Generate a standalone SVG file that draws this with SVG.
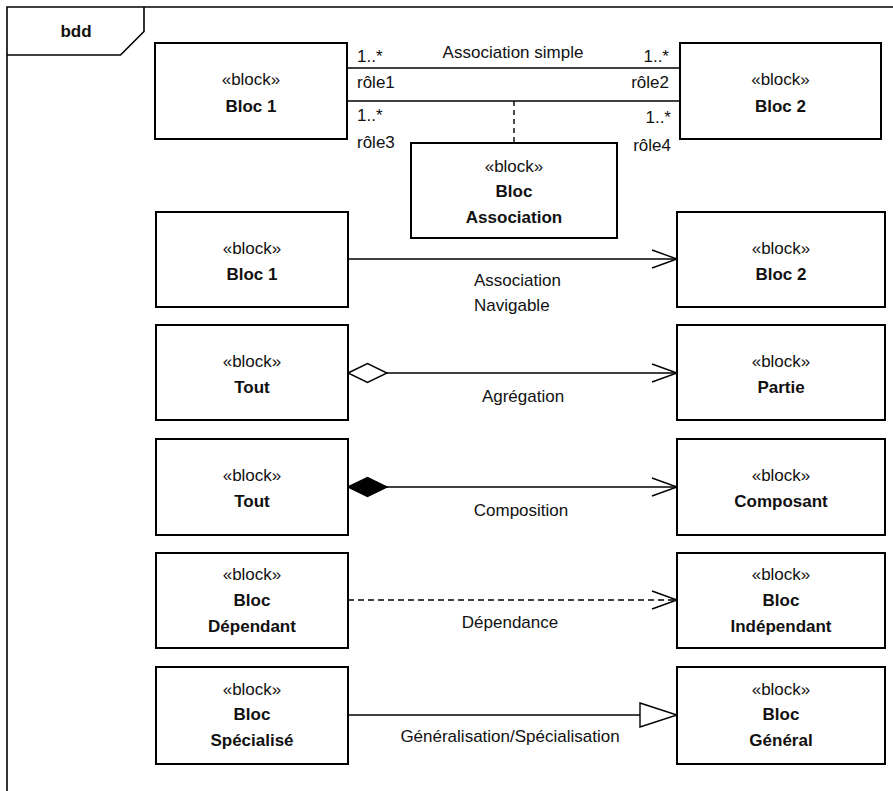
<svg xmlns="http://www.w3.org/2000/svg" width="893" height="791" viewBox="0 0 893 791">
<style>
  text { font-family: "Liberation Sans", Arial, sans-serif; font-size: 17px; fill: #111; }
  .b { font-weight: bold; }
  .c { text-anchor: middle; }
  .e { text-anchor: end; }
  .box { fill: #fff; stroke: #000; stroke-width: 2; }
  .frame { fill: none; stroke: #000; stroke-width: 1.6; }
  .ln { fill: none; stroke: #000; stroke-width: 1.4; }
  .dash { stroke-dasharray: 6 4; }
</style>
<defs>
  <marker id="open" markerUnits="userSpaceOnUse" markerWidth="28" markerHeight="22" refX="25" refY="10" orient="auto" overflow="visible">
    <path d="M0,1 L25,10 L0,19" fill="none" stroke="#000" stroke-width="1.4"/>
  </marker>
  <marker id="hdiam" markerUnits="userSpaceOnUse" markerWidth="42" markerHeight="22" refX="0" refY="10" orient="auto" overflow="visible">
    <path d="M0,10 L19.5,0.5 L39,10 L19.5,19.5 Z" fill="#fff" stroke="#000" stroke-width="1.4"/>
  </marker>
  <marker id="fdiam" markerUnits="userSpaceOnUse" markerWidth="42" markerHeight="22" refX="0" refY="10" orient="auto" overflow="visible">
    <path d="M0,10 L19.5,0.5 L39,10 L19.5,19.5 Z" fill="#000" stroke="#000" stroke-width="1.4"/>
  </marker>
  <marker id="tri" markerUnits="userSpaceOnUse" markerWidth="40" markerHeight="28" refX="37" refY="12" orient="auto" overflow="visible">
    <path d="M0,0 L37,12 L0,24 Z" fill="#fff" stroke="#000" stroke-width="1.4"/>
  </marker>
</defs>

<g id="frame">
  <path class="frame" d="M7,791 L7,7 L893,7"/>
  <path class="frame" d="M7,55 L120.5,55 L144,31.5 L144,7"/>
  <text class="b c" x="76" y="37">bdd</text>
</g>

<g id="connectors">
  <line class="ln" x1="347" y1="68" x2="680" y2="68"/>
  <line class="ln" x1="347" y1="101" x2="680" y2="101"/>
  <line class="ln dash" x1="514" y1="101" x2="514" y2="143" style="stroke-dasharray:5 4"/>
  <line class="ln" x1="348" y1="259" x2="677" y2="259" marker-end="url(#open)"/>
  <line class="ln" x1="348" y1="373" x2="677" y2="373" marker-start="url(#hdiam)" marker-end="url(#open)"/>
  <line class="ln" x1="348" y1="487" x2="677" y2="487" marker-start="url(#fdiam)" marker-end="url(#open)"/>
  <line class="ln dash" x1="348" y1="600" x2="677" y2="600" marker-end="url(#open)"/>
  <line class="ln" x1="348" y1="715" x2="677" y2="715" marker-end="url(#tri)"/>
</g>

<g id="labels">
  <text class="c" x="513" y="58">Association simple</text>
  <text x="357" y="61.5">1..*</text>
  <text x="357" y="88">rôle1</text>
  <text class="e" x="669" y="61.5">1..*</text>
  <text class="e" x="669" y="88">rôle2</text>
  <text x="357" y="121">1..*</text>
  <text x="357" y="148">rôle3</text>
  <text class="e" x="671" y="123">1..*</text>
  <text class="e" x="671" y="150.5">rôle4</text>
  <text x="474" y="285.5">Association</text>
  <text x="474" y="311">Navigable</text>
  <text class="c" x="523" y="401.5">Agrégation</text>
  <text class="c" x="521" y="516">Composition</text>
  <text class="c" x="510" y="627.5">Dépendance</text>
  <text class="c" x="510" y="742">Généralisation/Spécialisation</text>
</g>

<g id="bloc1-top">
  <rect class="box" x="155" y="43" width="192" height="96"/>
  <text class="c" x="251" y="85">«block»</text>
  <text class="b c" x="251" y="111.5">Bloc 1</text>
</g>
<g id="bloc2-top">
  <rect class="box" x="680" y="43" width="201" height="96"/>
  <text class="c" x="780.5" y="85">«block»</text>
  <text class="b c" x="780.5" y="111.5">Bloc 2</text>
</g>
<g id="bloc-association">
  <rect class="box" x="411" y="143" width="206" height="95"/>
  <text class="c" x="514" y="171.5">«block»</text>
  <text class="b c" x="514" y="196.5">Bloc</text>
  <text class="b c" x="514" y="222.5">Association</text>
</g>

<g id="bloc1-nav">
  <rect class="box" x="156" y="212" width="192" height="95"/>
  <text class="c" x="252" y="253.5">«block»</text>
  <text class="b c" x="252" y="279.5">Bloc 1</text>
</g>
<g id="bloc2-nav">
  <rect class="box" x="677" y="212" width="208" height="95"/>
  <text class="c" x="781" y="253.5">«block»</text>
  <text class="b c" x="781" y="279.5">Bloc 2</text>
</g>

<g id="tout-agr">
  <rect class="box" x="156" y="325" width="192" height="95"/>
  <text class="c" x="252" y="366.5">«block»</text>
  <text class="b c" x="252" y="392.5">Tout</text>
</g>
<g id="partie">
  <rect class="box" x="677" y="325" width="208" height="95"/>
  <text class="c" x="781" y="366.5">«block»</text>
  <text class="b c" x="781" y="392.5">Partie</text>
</g>

<g id="tout-comp">
  <rect class="box" x="156" y="439" width="192" height="96"/>
  <text class="c" x="252" y="481">«block»</text>
  <text class="b c" x="252" y="507">Tout</text>
</g>
<g id="composant">
  <rect class="box" x="677" y="439" width="208" height="96"/>
  <text class="c" x="781" y="481">«block»</text>
  <text class="b c" x="781" y="507">Composant</text>
</g>

<g id="bloc-dependant">
  <rect class="box" x="156" y="553" width="192" height="95"/>
  <text class="c" x="252" y="580">«block»</text>
  <text class="b c" x="252" y="605.5">Bloc</text>
  <text class="b c" x="252" y="631.5">Dépendant</text>
</g>
<g id="bloc-independant">
  <rect class="box" x="677" y="553" width="208" height="95"/>
  <text class="c" x="781" y="580">«block»</text>
  <text class="b c" x="781" y="605.5">Bloc</text>
  <text class="b c" x="781" y="631.5">Indépendant</text>
</g>

<g id="bloc-specialise">
  <rect class="box" x="156" y="667" width="192" height="97"/>
  <text class="c" x="252" y="694.5">«block»</text>
  <text class="b c" x="252" y="720">Bloc</text>
  <text class="b c" x="252" y="746">Spécialisé</text>
</g>
<g id="bloc-general">
  <rect class="box" x="677" y="667" width="208" height="97"/>
  <text class="c" x="781" y="694.5">«block»</text>
  <text class="b c" x="781" y="720">Bloc</text>
  <text class="b c" x="781" y="746">Général</text>
</g>
</svg>
